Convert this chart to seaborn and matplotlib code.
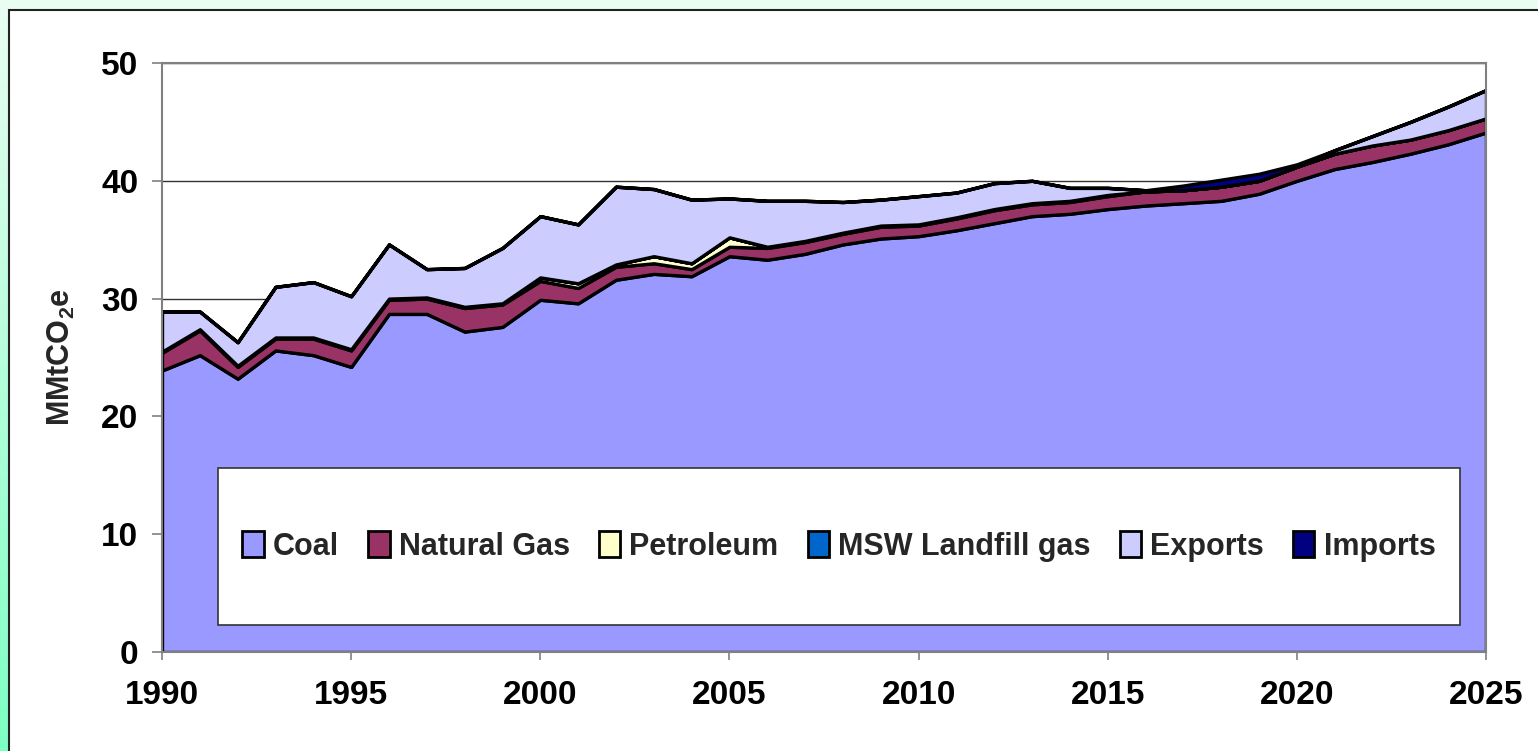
import numpy as np
import matplotlib
matplotlib.use('Agg')
import matplotlib.pyplot as plt
import seaborn as sns
from matplotlib.colors import LinearSegmentedColormap
from matplotlib.patches import Rectangle

years = list(range(1990, 2026))
coal = [23.9, 25.2, 23.2, 25.6, 25.2, 24.2, 28.7, 28.7, 27.2, 27.6,
        29.9, 29.6, 31.6, 32.1, 31.9, 33.6, 33.3, 33.8, 34.6, 35.1,
        35.3, 35.8, 36.4, 37.0, 37.2, 37.6, 37.9, 38.1, 38.3, 38.9,
        40.0, 41.0, 41.6, 42.3, 43.1, 44.1]
natural_gas = [1.5, 2.1, 1.0, 1.0, 1.4, 1.4, 1.2, 1.3, 2.0, 1.9,
               1.6, 1.3, 1.1, 0.9, 0.6, 0.8, 1.0, 1.0, 0.9, 1.0,
               0.9, 1.0, 1.1, 1.0, 1.0, 1.1, 1.2, 1.1, 1.2, 1.1,
               1.2, 1.3, 1.4, 1.2, 1.2, 1.2]
petroleum = [0.1, 0.1, 0.1, 0.1, 0.1, 0.1, 0.1, 0.1, 0.1, 0.1,
             0.3, 0.4, 0.2, 0.6, 0.5, 0.8, 0.1, 0.1, 0.1, 0.1,
             0.1, 0.1, 0.1, 0.1, 0.1, 0.1, 0.0, 0.0, 0.0, 0.0,
             0.0, 0.0, 0.0, 0.0, 0.0, 0.0]
msw_landfill = [0.0] * 36
exports = [3.4, 1.5, 2.0, 4.3, 4.7, 4.5, 4.6, 2.4, 3.3, 4.7,
           5.2, 5.0, 6.6, 5.7, 5.4, 3.3, 3.9, 3.4, 2.6, 2.2,
           2.4, 2.1, 2.2, 1.9, 1.1, 0.6, 0.1, 0.0, 0.0, 0.0,
           0.0, 0.3, 0.8, 1.5, 2.0, 2.4]
imports = [0.0] * 27 + [0.4, 0.6, 0.6, 0.2, 0.0, 0.0, 0.0, 0.0, 0.0]

labels = ['Coal', 'Natural Gas', 'Petroleum', 'MSW Landfill gas', 'Exports', 'Imports']
colors = ['#9999FF', '#993366', '#FFFFCC', '#0066CC', '#CCCCFF', '#000080']

sns.set_theme(style='white')
plt.rcParams['font.family'] = ['Liberation Sans', 'DejaVu Sans']
plt.rcParams['font.weight'] = 'bold'
plt.rcParams['mathtext.fontset'] = 'custom'
plt.rcParams['mathtext.rm'] = 'Liberation Sans:bold'
plt.rcParams['mathtext.bf'] = 'Liberation Sans:bold'

fig = plt.figure(figsize=(15.38, 7.51), dpi=100)

# green gradient background + white panel
bg = fig.add_axes([0, 0, 1, 1], zorder=-2)
grad = np.linspace(0, 1, 256).reshape(-1, 1)
cmap = LinearSegmentedColormap.from_list('g', ['#EAFDF2', '#7DFFC3'])
bg.imshow(grad, aspect='auto', cmap=cmap, extent=[0, 1, 0, 1])
bg.add_patch(Rectangle((9 / 1538, -0.05), 1.1, 1 - 10 / 751 + 0.05,
                       facecolor='white', edgecolor='#222222', lw=1.5))
bg.set_xlim(0, 1)
bg.set_ylim(0, 1)
bg.axis('off')

ax = fig.add_axes([162 / 1538, 99 / 751, 1324 / 1538, 589 / 751])
ax.stackplot(years, coal, natural_gas, petroleum, msw_landfill, exports, imports,
             colors=colors, labels=labels, edgecolor='black', linewidth=2.4)
ax.set_xlim(1990, 2025)
ax.set_ylim(0, 50)
ax.set_xticks(range(1990, 2026, 5))
ax.set_yticks(range(0, 51, 10))
ax.yaxis.grid(True, color='#333333', lw=1)
ax.set_axisbelow(True)
for s in ax.spines.values():
    s.set_color('#808080')
    s.set_linewidth(1.5)
ax.tick_params(axis='both', labelsize=24, colors='#808080', labelcolor='black',
               width=1.2, bottom=True, left=True)
ax.tick_params(axis='y', length=7, pad=10)
ax.tick_params(axis='x', length=6, pad=14)

ax.set_ylabel(r'MMtCO$_{\mathbf{2}}$e', fontsize=22, fontweight='bold')
ax.yaxis.set_label_coords(-0.064, 0.5)

# legend box
ax.add_patch(Rectangle((0.0423, 0.0458), 0.9377, 0.2666, transform=ax.transAxes,
                       facecolor='white', edgecolor='#333333', lw=1.2, zorder=5))
handles, lbls = ax.get_legend_handles_labels()
leg = ax.legend(handles, lbls, loc='center', bbox_to_anchor=(0.5113, 0.179),
                ncol=6, frameon=False, fontsize=22, handlelength=0.7,
                handleheight=0.9, handletextpad=0.3, columnspacing=0.95)
leg.set_zorder(6)
for h, c in zip(leg.legend_handles, colors):
    h.set_facecolor(c)
    h.set_linewidth(2)
    h.set_edgecolor('black')

fig.savefig('out.png', dpi=100)
